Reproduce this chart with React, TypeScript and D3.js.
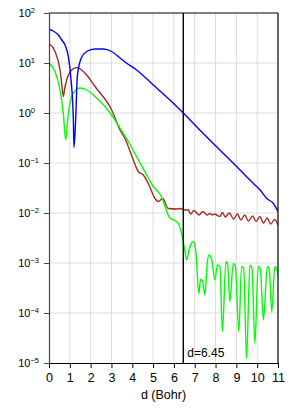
import { useEffect, useRef } from "react";
import * as d3 from "d3";

// axis ticks
const xTickValues = [0, 1, 2, 3, 4, 5, 6, 7, 8, 9, 10, 11];
const yExponents = [-5, -4, -3, -2, -1, 0, 1, 2];
const markerD = 6.45;
const markerLabel = "d=6.45";
const xTitle = "d (Bohr)";

// series as (d, log10 value)
const blueD = [0, 0.2, 0.45, 0.6, 0.77, 0.93, 1.06, 1.17, 1.2, 1.28, 1.36, 1.54, 1.81, 2.21, 2.61, 3.01, 3.41, 3.65, 4.21, 5.01, 5.81, 6.45, 7.41, 8.21, 9.01, 9.82, 10.14, 10.46, 10.78, 11.0];
const blueLog = [1.67, 1.64, 1.56, 1.47, 1.36, 1.13, 0.66, -0.14, -0.69, -0.14, 0.73, 1.09, 1.23, 1.28, 1.28, 1.23, 1.1, 1.02, 0.86, 0.56, 0.26, 0.0, -0.41, -0.74, -1.07, -1.41, -1.54, -1.71, -1.81, -1.97];

const brownD = [0, 0.29, 0.53, 0.62, 0.69, 0.76, 0.85, 1.09, 1.33, 1.57, 1.81, 2.21, 3.01, 3.41, 3.65, 4.05, 4.29, 4.53, 4.77, 5.09, 5.25, 5.46, 5.73, 6.13, 6.29, 6.53, 6.69, 6.8, 6.96, 7.22, 7.38, 7.6, 7.73, 7.85, 7.97, 8.1, 8.21, 8.33, 8.47, 8.66, 8.87, 9.05, 9.22, 9.4, 9.58, 9.78, 9.95, 10.13, 10.3, 10.48, 10.65, 10.84, 11.0];
const brownLog = [1.39, 1.23, 0.86, 0.55, 0.33, 0.5, 0.66, 0.86, 0.91, 0.86, 0.76, 0.53, 0.06, -0.34, -0.51, -0.94, -1.17, -1.24, -1.41, -1.71, -1.77, -1.71, -1.91, -1.92, -1.91, -1.94, -1.94, -2.02, -1.95, -2.04, -1.97, -2.04, -2.01, -2.04, -2.02, -2.05, -2.07, -1.99, -2.08, -2.0, -2.12, -2.02, -2.14, -2.04, -2.16, -2.06, -2.17, -2.07, -2.2, -2.1, -2.22, -2.13, -2.24];

const greenD = [0, 0.29, 0.53, 0.69, 0.8, 0.93, 1.09, 1.3, 1.49, 1.81, 2.21, 3.01, 3.41, 3.89, 4.37, 4.77, 5.01, 5.41, 5.6, 5.81, 6.05, 6.21, 6.37, 6.53, 6.61, 6.75, 6.93, 7.05, 7.2, 7.28, 7.38, 7.49, 7.6, 7.69, 7.8, 7.97, 8.09, 8.21, 8.33, 8.5, 8.58, 8.69, 8.85, 8.95, 9.12, 9.25, 9.35, 9.49, 9.65, 9.75, 9.89, 10.05, 10.15, 10.3, 10.49, 10.58, 10.7, 10.85, 10.93, 11.0];
const greenLog = [1.0, 0.83, 0.46, -0.01, -0.54, -0.01, 0.33, 0.46, 0.5, 0.46, 0.33, -0.04, -0.3, -0.63, -1.0, -1.3, -1.47, -1.68, -1.9, -2.1, -2.15, -2.21, -2.41, -2.77, -2.94, -2.7, -2.57, -2.75, -3.61, -3.33, -3.36, -3.64, -3.0, -2.84, -2.9, -3.34, -3.04, -3.07, -4.37, -2.97, -3.02, -3.77, -3.01, -3.06, -4.37, -3.07, -3.1, -4.91, -3.04, -3.1, -4.61, -3.07, -3.12, -4.14, -3.07, -3.12, -3.98, -3.07, -3.1, -3.24];

export default function App() {
    const svgRef = useRef(null);

    useEffect(() => {
        const W = 291, H = 416;
        const margin = { top: 13, right: 13, bottom: 53, left: 49 };
        const width = W - margin.left - margin.right;
        const height = H - margin.top - margin.bottom;

        const root = d3.select(svgRef.current);
        root.selectAll("*").remove();

        const svg = root.append("g")
            .attr("transform", `translate(${margin.left}, ${margin.top})`);

        const x = d3.scaleLinear().domain([0, 11]).range([0, width]);
        const y = d3.scaleLog().domain([1e-5, 1e2]).range([height, 0]);

        root.append("defs").append("clipPath").attr("id", "plotclip")
            .append("rect").attr("width", width).attr("height", height);

        // grid
        svg.append("g").selectAll("line").data(xTickValues.slice(1, -1)).join("line")
            .attr("x1", (d) => x(d)).attr("x2", (d) => x(d))
            .attr("y1", 0).attr("y2", height)
            .attr("stroke", "#dcdcdc").attr("stroke-width", 1);
        svg.append("g").selectAll("line").data(yExponents.slice(1, -1)).join("line")
            .attr("x1", 0).attr("x2", width)
            .attr("y1", (e) => y(10 ** e)).attr("y2", (e) => y(10 ** e))
            .attr("stroke", "#dcdcdc").attr("stroke-width", 1);

        // curves
        const series = [
            { d: brownD, v: brownLog, color: "#a52a2a" },
            { d: greenD, v: greenLog, color: "#00ff00" },
            { d: blueD, v: blueLog, color: "#0000ff" },
        ];
        const line = d3.line()
            .x((p) => x(p[0]))
            .y((p) => y(10 ** p[1]))
            .curve(d3.curveMonotoneX);
        const curves = svg.append("g").attr("clip-path", "url(#plotclip)");
        series.forEach((s) => {
            curves.append("path")
                .attr("fill", "none")
                .attr("stroke", s.color)
                .attr("stroke-width", 1.4)
                .attr("stroke-linejoin", "round")
                .attr("d", line(s.d.map((d, i) => [d, s.v[i]])));
        });

        // marker line
        svg.append("line")
            .attr("x1", x(markerD)).attr("x2", x(markerD))
            .attr("y1", 0).attr("y2", height)
            .attr("stroke", "#000").attr("stroke-width", 1.4);
        svg.append("text")
            .attr("x", x(markerD) + 4).attr("y", height - 6)
            .attr("font-size", 12)
            .text(markerLabel);

        // frame top / right
        svg.append("line").attr("x1", 0).attr("x2", width).attr("y1", 0).attr("y2", 0)
            .attr("stroke", "#000").attr("stroke-width", 1.2);
        svg.append("line").attr("x1", width).attr("x2", width).attr("y1", 0).attr("y2", height)
            .attr("stroke", "#000").attr("stroke-width", 1.2);

        // x axis
        const xAxis = svg.append("g")
            .attr("transform", `translate(0, ${height})`)
            .call(d3.axisBottom(x).tickValues(xTickValues).tickSize(5).tickSizeOuter(0).tickFormat(d3.format("d")));
        xAxis.select(".domain").attr("stroke", "#000").attr("stroke-width", 1.2);
        xAxis.selectAll(".tick line").attr("stroke", "#000");
        xAxis.selectAll(".tick text")
            .attr("font-size", 12.5).attr("font-family", "'Liberation Sans', Arial, sans-serif")
            .attr("fill", "#000").attr("dy", "0.9em");

        // y axis
        const yAxis = svg.append("g")
            .call(d3.axisLeft(y).tickValues(yExponents.map((e) => 10 ** e)).tickSize(5).tickSizeOuter(0).tickFormat(() => ""));
        yAxis.select(".domain").attr("stroke", "#444").attr("stroke-width", 1.2);
        yAxis.selectAll(".tick line").attr("stroke", "#444");

        const yLabels = svg.append("g").attr("font-size", 11);
        yExponents.forEach((e) => {
            const t = yLabels.append("text")
                .attr("x", e < 0 ? -10 : -14)
                .attr("y", y(10 ** e) + 4)
                .attr("text-anchor", "end");
            t.append("tspan").text("10");
            t.append("tspan")
                .attr("font-size", 7.5)
                .attr("dy", -4)
                .text(e < 0 ? "\u2212" + Math.abs(e) : String(e));
        });

        // x title
        svg.append("text")
            .attr("x", width / 2).attr("y", height + 36)
            .attr("text-anchor", "middle")
            .attr("font-size", 12.5)
            .text(xTitle);
    }, []);

    return (
        <svg
            ref={svgRef}
            width={291}
            height={416}
            style={{ position: "absolute", left: 0, top: 0, fontFamily: "'Liberation Sans', Arial, sans-serif", background: "#fff" }}
        ></svg>
    );
}
